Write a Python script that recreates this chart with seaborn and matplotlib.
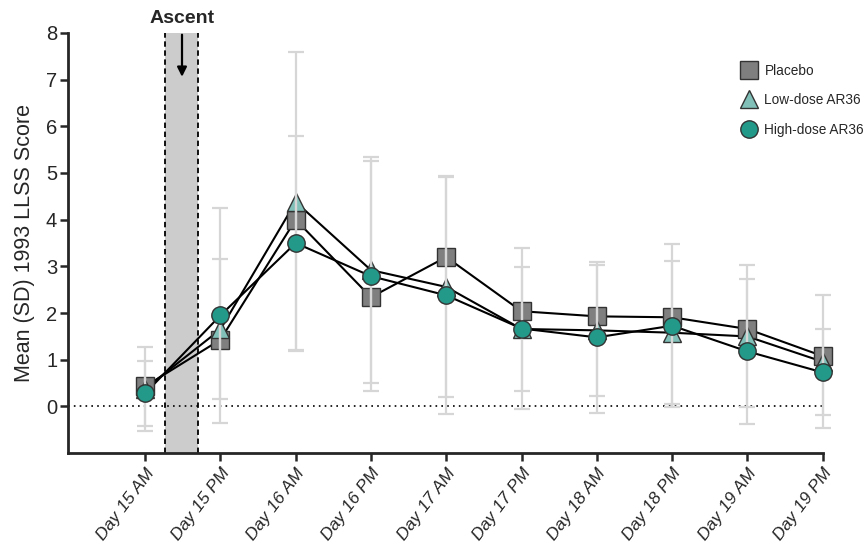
import matplotlib
matplotlib.use("Agg")
import matplotlib.pyplot as plt
import seaborn as sns
import numpy as np
import pandas as pd

timepoints = ["Day 15 AM", "Day 15 PM", "Day 16 AM", "Day 16 PM", "Day 17 AM",
              "Day 17 PM", "Day 18 AM", "Day 18 PM", "Day 19 AM", "Day 19 PM"]
placebo = [0.43, 1.43, 4.00, 2.34, 3.20, 2.04, 1.93, 1.91, 1.66, 1.08]
low_dose = [0.38, 1.65, 4.38, 2.92, 2.56, 1.66, 1.63, 1.58, 1.50, 0.96]
high_dose = [0.28, 1.95, 3.50, 2.79, 2.38, 1.67, 1.48, 1.73, 1.18, 0.73]
low_sd = [0.90, 1.50, 3.20, 2.42, 2.36, 1.32, 1.41, 1.53, 1.52, 1.42]
high_sd = [0.69, 2.30, 2.29, 2.46, 2.55, 1.72, 1.61, 1.75, 1.55, 0.92]
series_names = ["Placebo", "Low-dose AR36", "High-dose AR36"]

sns.set_style("ticks")
plt.rcParams["font.family"] = ["Liberation Sans", "DejaVu Sans"]

fig = plt.figure(figsize=(8.65, 5.48), dpi=100)
ax = fig.add_axes([0.079, 0.173, 0.872, 0.767])

x = np.arange(len(timepoints))
df = pd.DataFrame({
    "x": np.tile(x, 3),
    "score": placebo + low_dose + high_dose,
    "group": np.repeat(series_names, len(timepoints)),
})

styles = {
    "Placebo": dict(marker="s", color="#7f7f7f", ms=12.5, z=3),
    "Low-dose AR36": dict(marker="^", color="#80c0b8", ms=13.5, z=4),
    "High-dose AR36": dict(marker="o", color="#23998a", ms=12.5, z=6),
}

# error bars (SD)
for vals, sd in ((low_dose, low_sd), (high_dose, high_sd)):
    eb = ax.errorbar(x, vals, yerr=sd, fmt="none", ecolor="#d6d6d6",
                     elinewidth=1.6, capsize=6, capthick=1.6, zorder=5)
    for art in eb.lines[1] + eb.lines[2]:
        art.set_clip_on(False)

handles = []
for name in series_names:
    st = styles[name]
    sub = df[df["group"] == name]
    sns.lineplot(data=sub, x="x", y="score", ax=ax, color="black", lw=1.5,
                 zorder=2, legend=False)
    h, = ax.plot(sub["x"], sub["score"], ls="none", marker=st["marker"],
                 ms=st["ms"], mfc=st["color"], mec="#333333", mew=1.0,
                 zorder=st["z"], clip_on=False)
    handles.append(h)

# zero reference
ax.axhline(0, color="black", ls=(0, (1, 2.5)), lw=1.2, zorder=1)

# ascent band
ax.axvspan(0.27, 0.70, color="#cccccc", zorder=0, lw=0)
for xv in (0.27, 0.70):
    ax.axvline(xv, color="black", ls=(0, (3, 2)), lw=1.3, zorder=1)
ax.annotate("", xy=(0.49, 7.0), xytext=(0.49, 8.02),
            arrowprops=dict(arrowstyle="-|>", color="black", lw=1.6,
                            mutation_scale=14), annotation_clip=False)
ax.text(0.49, 8.12, "Ascent", ha="center", va="bottom", fontsize=14,
        fontweight="bold", clip_on=False)

ax.set_xlim(-1.02, 9)
ax.set_ylim(-1, 8)
ax.set_yticks(range(0, 9))
ax.set_xticks(x)
ax.set_xticklabels(timepoints, rotation=53, ha="right", rotation_mode="anchor",
                   fontstyle="italic", fontsize=12.5)
ax.tick_params(axis="y", labelsize=14.5, width=1.8, length=6, pad=2)
ax.tick_params(axis="x", width=1.8, length=6, pad=3)
ax.set_xlabel("")
ax.set_ylabel("Mean (SD) 1993 LLSS Score", fontsize=15.5, labelpad=8)

for s in ("top", "right"):
    ax.spines[s].set_visible(False)
for s in ("left", "bottom"):
    ax.spines[s].set_linewidth(2)

ax.legend(handles, series_names, loc="upper left", bbox_to_anchor=(0.885, 0.94),
          frameon=False, fontsize=9.8, handletextpad=0.5, labelspacing=1.15,
          handlelength=1.2, borderaxespad=0)

fig.savefig("out.png", dpi=100)
